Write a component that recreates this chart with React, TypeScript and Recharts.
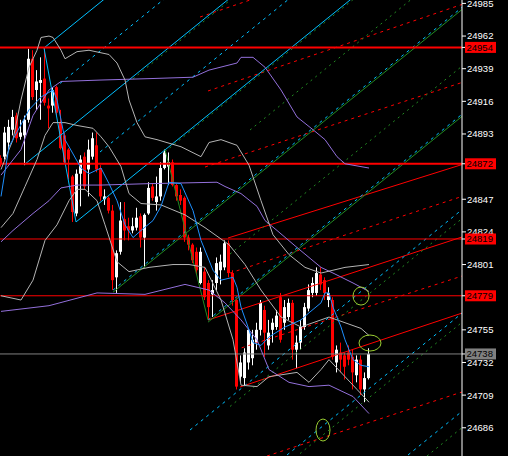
import React from "react";
import {
  ComposedChart, Bar, Line, XAxis, YAxis, ReferenceLine, ReferenceDot,
} from "recharts";

// OHLC, one value per bar (oldest first)
const opens = [
  24876, 24877, 24887, 24896, 24906, 24891, 24892, 24903, 24946, 24924,
  24929, 24932, 24913, 24913, 24926, 24901, 24892, 24882, 24863, 24837,
  24865, 24877, 24868, 24877, 24885, 24869, 24847, 24848, 24839, 24792,
  24810, 24833, 24828, 24825, 24827, 24835, 24820, 24837, 24856, 24845,
  24849, 24869, 24870, 24873, 24857, 24850, 24848, 24820, 24815, 24810,
  24788, 24796, 24788, 24780, 24788, 24797, 24799, 24816, 24795, 24776,
  24722, 24721, 24732, 24735, 24746, 24755, 24769, 24744, 24755, 24757,
  24778, 24760, 24764, 24774, 24741, 24746, 24757, 24770, 24781, 24781,
  24794, 24790, 24776, 24776, 24732, 24739, 24737, 24739, 24736, 24723,
  24734, 24713, 24721,
];
const highs = [
  24878, 24898, 24903, 24910, 24908, 24903, 24906, 24953, 24952, 24938,
  24947, 24954, 24918, 24926, 24927, 24910, 24894, 24883, 24864, 24868,
  24878, 24880, 24889, 24894, 24894, 24871, 24854, 24849, 24843, 24811,
  24845, 24845, 24834, 24834, 24841, 24837, 24837, 24859, 24858, 24863,
  24873, 24882, 24880, 24875, 24858, 24854, 24849, 24822, 24816, 24813,
  24813, 24799, 24790, 24790, 24806, 24808, 24818, 24818, 24797, 24777,
  24737, 24742, 24756, 24755, 24760, 24776, 24772, 24762, 24763, 24769,
  24781, 24776, 24777, 24776, 24751, 24762, 24774, 24787, 24792, 24799,
  24799, 24792, 24785, 24778, 24744, 24746, 24739, 24744, 24741, 24737,
  24737, 24725, 24742,
];
const lows = [
  24870, 24875, 24882, 24892, 24887, 24889, 24871, 24901, 24917, 24910,
  24903, 24913, 24897, 24908, 24906, 24882, 24872, 24861, 24831, 24835,
  24842, 24854, 24849, 24875, 24866, 24846, 24843, 24837, 24783, 24781,
  24808, 24818, 24818, 24823, 24825, 24813, 24799, 24836, 24846, 24839,
  24846, 24868, 24857, 24856, 24846, 24843, 24817, 24811, 24802, 24794,
  24787, 24776, 24762, 24764, 24783, 24787, 24797, 24792, 24772, 24713,
  24718, 24716, 24727, 24730, 24741, 24751, 24736, 24741, 24746, 24755,
  24746, 24755, 24762, 24734, 24728, 24741, 24755, 24768, 24778, 24779,
  24783, 24776, 24771, 24734, 24725, 24725, 24720, 24730, 24713, 24718,
  24709, 24704, 24720,
];
const closes = [
  24872, 24894, 24898, 24905, 24890, 24894, 24903, 24946, 24919, 24930,
  24931, 24915, 24911, 24924, 24908, 24883, 24873, 24875, 24838, 24865,
  24875, 24856, 24882, 24890, 24868, 24849, 24849, 24839, 24790, 24809,
  24832, 24825, 24825, 24828, 24834, 24820, 24836, 24855, 24848, 24849,
  24869, 24880, 24873, 24857, 24849, 24846, 24820, 24815, 24804, 24797,
  24810, 24778, 24771, 24783, 24802, 24803, 24816, 24795, 24776, 24715,
  24732, 24739, 24755, 24748, 24755, 24774, 24753, 24753, 24760, 24765,
  24748, 24771, 24774, 24741, 24746, 24757, 24771, 24783, 24788, 24795,
  24787, 24781, 24781, 24736, 24741, 24734, 24729, 24734, 24725, 24734,
  24713, 24721, 24738,
];

// indicator lines: [bar, price]
const maFast = [
  [0, 24849], [2, 24884], [7, 24910], [10, 24919], [13, 24924], [14, 24917], [16, 24889],
  [20, 24869], [22, 24865], [25, 24869], [27, 24858], [29, 24846], [31, 24829], [33, 24820],
  [35, 24825], [38, 24832], [40, 24842], [42, 24859], [45, 24858], [48, 24839], [50, 24818],
  [53, 24797], [55, 24790], [58, 24792], [59, 24785], [60, 24771], [62, 24755], [63, 24746],
  [65, 24744], [67, 24750], [71, 24757], [75, 24762], [77, 24767], [80, 24774], [81, 24781],
  [82, 24781], [83, 24771], [85, 24757], [86, 24748], [88, 24734], [90, 24730], [92, 24729],
];
const bbUpper = [
  [0, 24868], [3, 24889], [5, 24917], [7, 24940], [9, 24952], [10, 24961], [12, 24962],
  [13, 24961], [15, 24952], [16, 24946], [19, 24951], [22, 24952], [27, 24949], [29, 24943],
  [31, 24931], [32, 24917], [34, 24901], [36, 24891], [39, 24889], [45, 24884], [50, 24877],
  [52, 24887], [55, 24889], [59, 24885], [62, 24871], [65, 24846], [68, 24822], [72, 24808],
  [76, 24799], [80, 24795], [86, 24799], [92, 24801],
];
const bbMid = [
  [0, 24827], [3, 24837], [6, 24856], [9, 24875], [11, 24892], [13, 24901], [16, 24901],
  [19, 24899], [23, 24897], [25, 24891], [27, 24884], [30, 24870], [32, 24851], [35, 24844],
  [40, 24843], [46, 24836], [51, 24827], [57, 24815], [61, 24801], [65, 24783], [70, 24764],
  [75, 24757], [78, 24760], [82, 24764], [86, 24760], [90, 24756], [92, 24751],
];
const bbLower = [
  [0, 24779], [5, 24776], [8, 24790], [11, 24818], [14, 24829], [17, 24846], [19, 24854],
  [21, 24854], [24, 24846], [26, 24829], [29, 24803], [32, 24796], [37, 24799], [43, 24801],
  [47, 24801], [51, 24799], [55, 24776], [58, 24748], [60, 24716], [64, 24715], [67, 24722],
  [74, 24725], [77, 24718], [80, 24727], [82, 24734], [86, 24722], [89, 24713], [92, 24704],
];
const slowUpper = [
  [0, 24864], [5, 24882], [8, 24906], [12, 24924], [15, 24930], [25, 24931], [37, 24932],
  [48, 24933], [52, 24938], [59, 24943], [60, 24947], [63, 24947], [66, 24940], [70, 24924],
  [74, 24905], [78, 24896], [81, 24889], [84, 24877], [86, 24872], [92, 24869],
];
const slowMid = [
  [0, 24817], [3, 24825], [8, 24837], [12, 24846], [15, 24855], [19, 24857], [25, 24857],
  [37, 24858], [54, 24859], [56, 24856], [60, 24851], [64, 24842], [66, 24832], [69, 24825],
  [74, 24813], [80, 24799], [83, 24795], [88, 24788], [92, 24782],
];
const slowLower = [
  [0, 24768], [12, 24772], [24, 24781], [36, 24780], [46, 24787], [52, 24783], [56, 24774],
  [60, 24762], [64, 24748], [67, 24727], [72, 24718], [77, 24715], [82, 24716], [88, 24708],
  [92, 24696],
];

// drawn objects: [bar0, price0, bar1, price1]
const zigzagCyan = [[10.75, 24953.6, 18.75, 24831]];
const zigzagGreen = [[41, 24882, 51.75, 24762]];
const channelCyan = [
  [10.75, 24953.6, 116, 25193.9],
  [6, 24871.8, 116, 25122.9],
  [18.75, 24831, 116, 25053],
];
const channelCyanDot = [
  [14.75, 24928.6, 116, 25159.8],
  [24.75, 24880.3, 116, 25088.6],
  [28, 24783, 116, 24983.9],
  [51.75, 24761.9, 116, 24908.6],
  [47.25, 24684.4, 116, 24841.4],
  [71.5, 24666.8, 116, 24768.4],
  [101.75, 24666.8, 116, 24699.3],
];
const channelGreen = [
  [28, 24781.5, 116, 24982.4],
  [51.75, 24760.4, 116, 24907.1],
];
const channelGreenDot = [
  [33, 24931.9, 116, 25121.4],
  [41, 24880.5, 116, 25051.5],
  [62.25, 24895.8, 116, 25018.5],
  [57.25, 24808.4, 116, 24942.5],
  [57.25, 24701, 116, 24835.1],
  [74.75, 24667.8, 116, 24762],
  [106.5, 24666.1, 116, 24687.8],
];
const channelRed = [
  [56.75, 24819.7, 116, 24872.1],
  [51.75, 24761.9, 116, 24821.1],
  [59.75, 24714.7, 116, 24767.5],
];
const channelRedDot = [
  [49.75, 24975.4, 116, 25038.9],
  [51.75, 24923.3, 116, 24985],
  [51, 24869.7, 116, 24930],
  [57.25, 24795, 116, 24849.7],
  [58.5, 24740.8, 116, 24793.6],
  [66.5, 24666.1, 116, 24711.9],
];
const marks = [[90, 24778.8], [92.25, 24745.7], [80.5, 24684.4]];
const markRadii = [[8, 9], [11, 8], [7, 11]];

const levels = [24954, 24872, 24819, 24779];
const lastPrice = 24738;
const yTicks = [
  24985, 24962, 24939, 24916, 24893, 24847, 24824, 24801, 24755, 24732, 24709, 24686,
];

const candles = opens.map((o, i) => ({
  i, open: o, high: highs[i], low: lows[i], close: closes[i],
}));
const toPts = (arr: number[][]) => arr.map(([i, p]) => ({ i, p }));
const FONT = "Liberation Sans, Arial";

function Candle(props: any) {
  const { x, y, width, height, payload } = props;
  const { open, close, high, low } = payload;
  const color = close >= open ? "#ffffff" : "#ff0000";
  const range = high - low || 1;
  const top = y + ((high - Math.max(open, close)) / range) * height;
  const bot = y + ((high - Math.min(open, close)) / range) * height;
  const left = Math.round(x);
  const cx = left + 1.5;
  return (
    <g>
      <line x1={cx} x2={cx} y1={y} y2={y + height} stroke={color} strokeWidth={1} />
      <rect x={left} y={top} width={Math.round(width)} height={Math.max(1, bot - top)} fill={color} />
    </g>
  );
}

// price axis label; level prices get a coloured tag drawn over the scale
function AxisTick(props: any) {
  const { x, y, payload } = props;
  const v = payload.value;
  const bg = v === lastPrice ? "#808080" : levels.includes(v) ? "#ff0000" : null;
  if (bg) {
    return (
      <g>
        <rect x={x - 2} y={y - 5.5} width={31} height={11} fill={bg} />
        <text x={x - 0.5} y={y} dy="0.36em" fontSize={9.5} fontFamily={FONT} fill="#000">{v}</text>
      </g>
    );
  }
  return (
    <text x={x} y={y} dy="0.36em" fontSize={9.5} fontFamily={FONT} fill="#fff">{v}</text>
  );
}

function segs(list: number[][], stroke: string, dash?: string, width = 1) {
  return list.map(([x1, y1, x2, y2], k) => (
    <ReferenceLine
      key={stroke + (dash || "") + k}
      segment={[{ x: x1, y: y1 }, { x: x2, y: y2 }]}
      stroke={stroke}
      strokeWidth={width}
      strokeDasharray={dash}
      ifOverflow="hidden"
    />
  ));
}

function band(points: number[][], color: string) {
  return (
    <Line
      data={toPts(points)}
      dataKey="p"
      stroke={color}
      strokeWidth={1}
      dot={false}
      activeDot={false}
      legendType="none"
      isAnimationActive={false}
    />
  );
}

export default function App() {
  return (
    <div style={{ position: "absolute", left: 0, top: 0, width: 508, height: 456, background: "#000" }}>
      <ComposedChart
        width={508}
        height={456}
        data={candles}
        margin={{ top: 0, right: 0, left: 0, bottom: 0 }}
      >
        <XAxis dataKey="i" type="number" domain={[-0.25, 115.25]} allowDataOverflow hide />
        <YAxis
          orientation="right"
          width={46}
          domain={[24666.1, 24987.4]}
          allowDataOverflow
          ticks={[...yTicks, ...levels, lastPrice]}
          interval={0}
          tickSize={4}
          tickMargin={1}
          axisLine={{ stroke: "#ffffff" }}
          tickLine={{ stroke: "#ffffff" }}
          tick={<AxisTick />}
        />

        {segs(channelRedDot, "#ff0000", "3 4")}
        {segs(channelRed, "#ff0000")}
        {segs(channelGreenDot, "#228b22", "2 4")}
        {segs(channelGreen, "#228b22")}
        {segs(channelCyanDot, "#00bfff", "3 4")}
        {segs(channelCyan, "#00bfff")}
        {segs(zigzagCyan, "#00bfff")}
        {segs(zigzagGreen, "#228b22")}

        {levels.map((v, k) => (
          <ReferenceLine key={v} y={v} stroke="#ff0000" strokeWidth={k < 2 ? 2 : 1} />
        ))}
        <ReferenceLine y={lastPrice} stroke="#808080" />

        <Bar
          dataKey={(d: any) => [d.low, d.high]}
          barSize={3}
          shape={<Candle />}
          isAnimationActive={false}
        />

        {band(slowUpper, "#9370db")}
        {band(slowMid, "#9370db")}
        {band(slowLower, "#9370db")}
        {band(bbUpper, "#b4b4b4")}
        {band(bbMid, "#b4b4b4")}
        {band(bbLower, "#b4b4b4")}
        {band(maFast, "#1e90ff")}

        {marks.map(([x, y], k) => (
          <ReferenceDot
            key={k}
            x={x}
            y={y}
            r={8}
            ifOverflow="visible"
            shape={(p: any) => (
              <ellipse cx={p.cx} cy={p.cy} rx={markRadii[k][0]} ry={markRadii[k][1]} fill="none" stroke="#9acd32" strokeWidth={1} />
            )}
          />
        ))}
      </ComposedChart>
    </div>
  );
}
